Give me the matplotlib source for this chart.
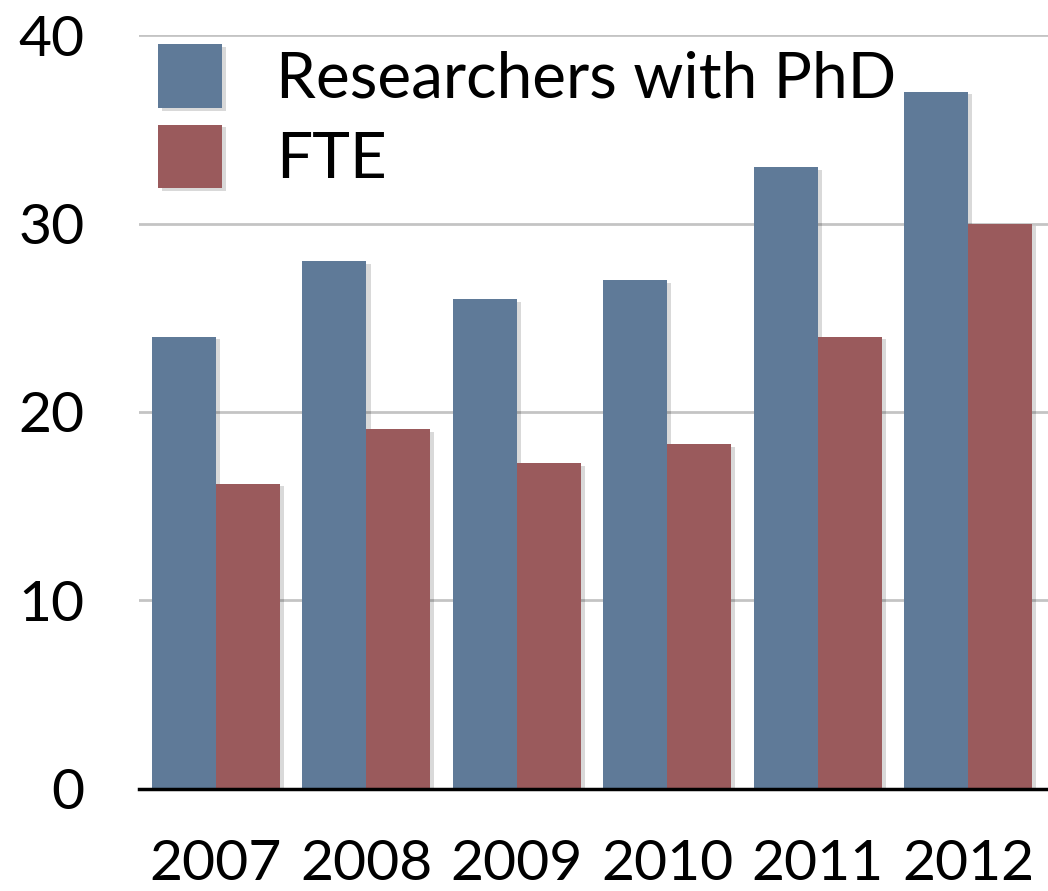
import numpy as np
import matplotlib
matplotlib.use("Agg")
import matplotlib.pyplot as plt
import matplotlib.patheffects as pe

# datos
years = ["2007", "2008", "2009", "2010", "2011", "2012"]
phd = [24, 28, 26, 27, 33, 37]
fte = [16.2, 19.1, 17.3, 18.3, 24, 30]
labels = ["Researchers with PhD", "FTE"]

blue = "#5f7a98"
red = "#9a5a5c"

plt.rcParams['font.family'] = ['Lato', 'DejaVu Sans']

fig = plt.figure(figsize=(10.48, 8.91), dpi=100)
ax = fig.add_axes([0.1326, 0.1145, 1 - 0.1326, 0.9607 - 0.1145])

x = np.arange(len(years))
w = 0.425
sombra = [pe.SimplePatchShadow(offset=(3, -2), shadow_rgbFace='#000000', alpha=0.15), pe.Normal()]
b1 = ax.bar(x - w / 2, phd, w, color=blue, label=labels[0], zorder=3)
b2 = ax.bar(x + w / 2, fte, w, color=red, label=labels[1], zorder=3)
for r in list(b1) + list(b2):
    r.set_path_effects(sombra)

ax.set_xlim(-0.512, 5.532)
ax.set_ylim(0, 40)
ax.set_yticks([0, 10, 20, 30, 40])
ax.set_xticks(x)
ax.set_xticklabels(years)

ax.yaxis.grid(True, color='#c4c4c4', linewidth=2, zorder=0)
ax.set_axisbelow(True)
for s in ['left', 'right', 'top']:
    ax.spines[s].set_visible(False)
ax.spines['bottom'].set_linewidth(2.5)
ax.spines['bottom'].set_color('black')
ax.spines['bottom'].set_zorder(4)
ax.tick_params(axis='both', length=0, labelsize=41)
ax.tick_params(axis='x', pad=36)
ax.tick_params(axis='y', pad=39)

ax.legend(loc='upper left', bbox_to_anchor=(0.1508, 0.9506), bbox_transform=fig.transFigure,
          frameon=False, fontsize=46, handlelength=1.0, handleheight=1.16,
          handletextpad=0.85, labelspacing=0.25, borderpad=0, borderaxespad=0)

fig.savefig("out.png", dpi=100)
